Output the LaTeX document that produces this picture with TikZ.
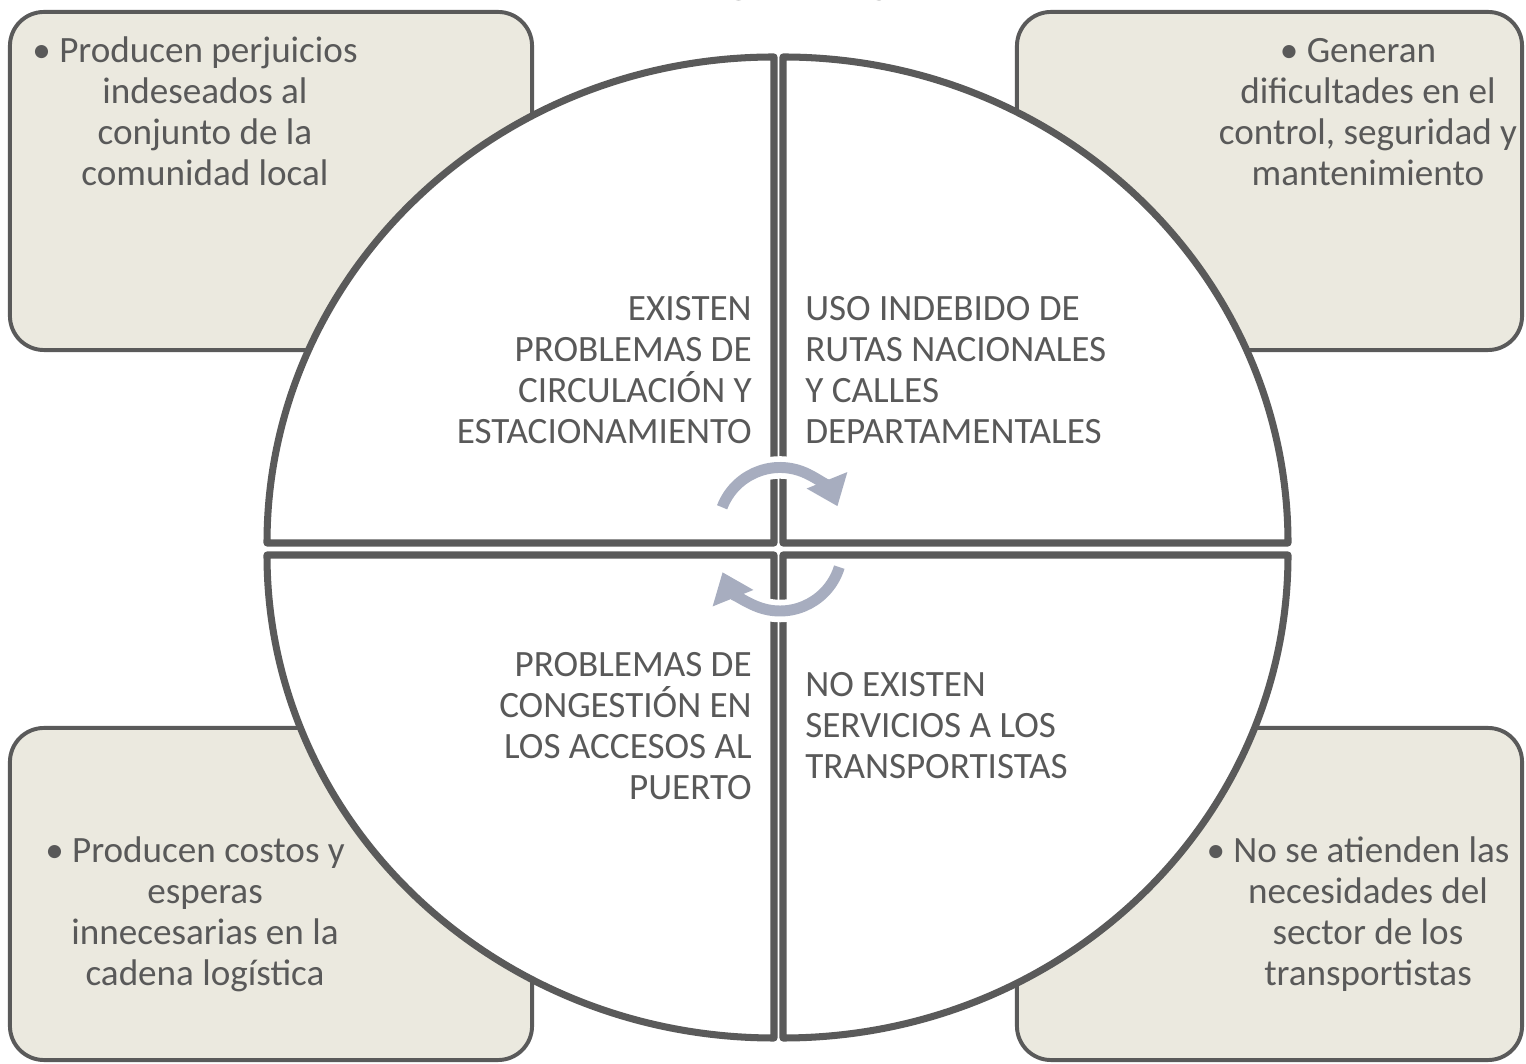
\documentclass[tikz,border=0pt]{standalone}
\usepackage{fontspec}
\setmainfont{Carlito}
\usetikzlibrary{arrows.meta}
\usetikzlibrary{shadows}

\definecolor{gristexto}{HTML}{595959}
\definecolor{grisborde}{HTML}{5A5A5A}
\definecolor{fondocaja}{HTML}{EBE9DF}
\definecolor{azulflecha}{HTML}{A7ADBF}

\begin{document}
\begin{tikzpicture}[x=0.025cm,y=0.025cm,
    caja/.style={draw=grisborde,line width=2.8pt,fill=fondocaja,rounded corners=0.85cm,
                 minimum width=13.05cm,minimum height=8.45cm},
    cajader/.style={caja,minimum width=12.625cm},
    cajabaja/.style={minimum height=8.3cm},
    cuadrante/.style={draw=grisborde,line width=5pt,fill=white,line join=round,
                      drop shadow={shadow xshift=0.04cm,shadow yshift=-0.06cm,opacity=0.3}},
    texto/.style={text=gristexto,font=\fontsize{26.4}{29.2}\selectfont,inner sep=0pt},
    flechaborde/.style={white,line width=16pt,-{Triangle[width=1.4cm,length=0.95cm]},shorten >=-0.12cm},
    flecha/.style={azulflecha,line width=7.8pt,-{Triangle[width=1.05cm,length=0.7cm]}}]

    \useasboundingbox (0,0) rectangle (1526,1064);
    \clip (0,0) rectangle (1526,1064);

    % cajas de las esquinas
    \node[caja] (cajaNO) at (271,883) {};
    \node[cajader] (cajaNE) at (1269.5,883) {};
    \node[caja,cajabaja] (cajaSO) at (271,170) {};
    \node[cajader,cajabaja] (cajaSE) at (1269.5,170) {};

    % cuadrantes del circulo
    \draw[cuadrante] (774,521) -- ++(0,486) arc[start angle=90,end angle=180,x radius=507,y radius=486] -- cycle;
    \draw[cuadrante] (783,521) -- ++(505,0) arc[start angle=0,end angle=90,x radius=505,y radius=486] -- cycle;
    \draw[cuadrante] (774,509) -- ++(-507,0) arc[start angle=180,end angle=270,x radius=507,y radius=483] -- cycle;
    \draw[cuadrante] (783,509) -- ++(0,-483) arc[start angle=270,end angle=360,x radius=505,y radius=483] -- cycle;

    % textos de los cuadrantes
    \node[texto,align=right,anchor=base east] (circulacion) at (752,620)
        {EXISTEN\\PROBLEMAS DE\\CIRCULACIÓN Y\\ESTACIONAMIENTO};
    \node[texto,align=left,anchor=base west] (rutas) at (805,620)
        {USO INDEBIDO DE\\RUTAS NACIONALES\\Y CALLES\\DEPARTAMENTALES};
    \node[texto,align=right,anchor=base east] (congestion) at (752,264)
        {PROBLEMAS DE\\CONGESTIÓN EN\\LOS ACCESOS AL\\PUERTO};
    \node[texto,align=left,anchor=base west] (servicios) at (805,285)
        {NO EXISTEN\\SERVICIOS A LOS\\TRANSPORTISTAS};

    % textos de las cajas
    \node[texto,align=center,anchor=base] (perjuicios) at (205,878)
        {• Producen perjuicios\kern0.5cm\\indeseados al\\conjunto de la\\comunidad local};
    \node[texto,align=center,anchor=base] (dificultades) at (1368,878)
        {• Generan\kern0.5cm\\dificultades en el\\control, seguridad y\\mantenimiento};
    \node[texto,align=center,anchor=base] (costos) at (205,78)
        {• Producen costos y\kern0.5cm\\esperas\\innecesarias en la\\cadena logística};
    \node[texto,align=center,anchor=base] (necesidades) at (1368,78)
        {• No se atienden las\kern0.5cm\\necesidades del\\sector de los\\transportistas};

    % flechas circulares
    \draw[flechaborde] (780,534.5) ++(159:62) arc[start angle=159,end angle=22,radius=62];
    \draw[flecha] (780,534.5) ++(159:62) arc[start angle=159,end angle=22,radius=62];
    \draw[flechaborde] (780,515) ++(-17:62) arc[start angle=-17,end angle=-158,radius=62];
    \draw[flecha] (780,515) ++(-17:62) arc[start angle=-17,end angle=-158,radius=62];

    \node[texto,font=\fontsize{29}{34}\selectfont,anchor=base] (titulo) at (786,1063) {PROBLEMAS};
\end{tikzpicture}
\end{document}
